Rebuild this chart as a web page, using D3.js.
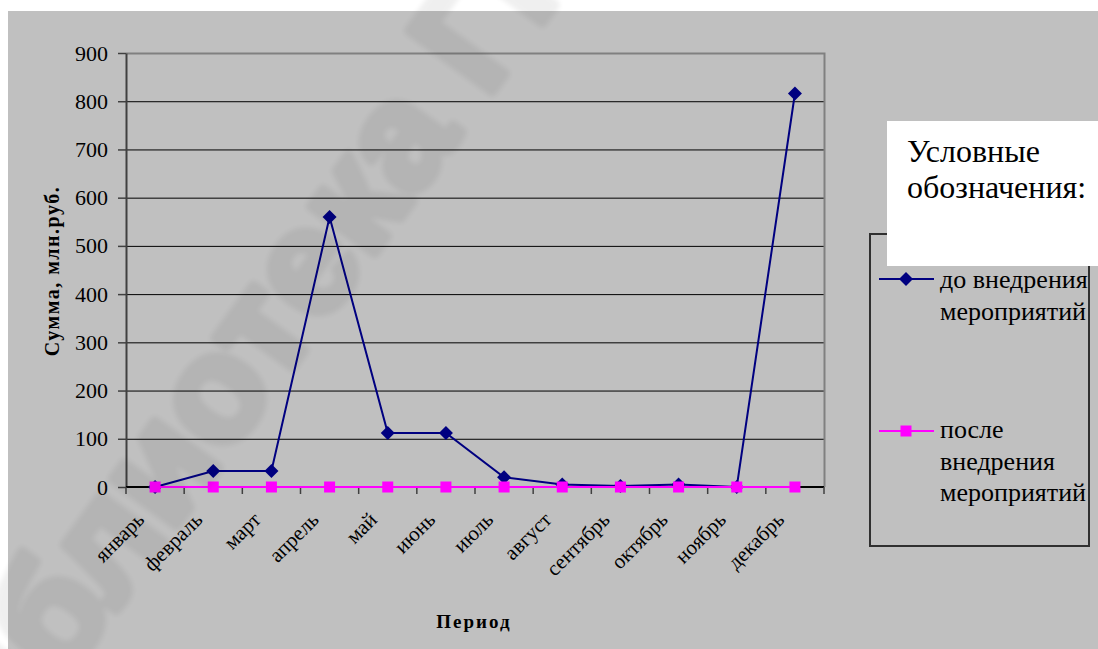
<!DOCTYPE html>
<html>
<head>
<meta charset="utf-8">
<script src="https://cdn.jsdelivr.net/npm/d3@7"></script>
<style>
  html, body { margin: 0; padding: 0; background: #ffffff; }
  svg { display: block; }
  text { font-family: "Liberation Serif", "Times New Roman", serif; fill: #000; }
</style>
</head>
<body>
<svg id="chart" width="1098" height="649"></svg>
<script>
// Monthly amounts, mln rub.
const categories = ["январь", "февраль", "март", "апрель", "май", "июнь",
                    "июль", "август", "сентябрь", "октябрь", "ноябрь", "декабрь"];
const beforeValues = [0, 33, 33, 560, 112, 112, 20, 5, 2, 5, 0, 816];
const afterValues  = [0, 0, 0, 0, 0, 0, 0, 0, 0, 0, 0, 0];
const yTicks = [0, 100, 200, 300, 400, 500, 600, 700, 800, 900];
const seriesNames = [["до внедрения", "мероприятий"], ["после", "внедрения", "мероприятий"]];

const W = 1098, H = 649;
const plot = { left: 126, right: 824, top: 53, bottom: 487 };
const serif = "'Liberation Serif', 'Times New Roman', serif";

const svg = d3.select("#chart");

// chart background
svg.append("rect").attr("x", 8).attr("y", 11).attr("width", W - 8).attr("height", H - 11)
  .attr("fill", "#c0c0c0");

const x = d3.scaleBand().domain(categories).range([plot.left, plot.right]);
const y = d3.scaleLinear().domain([0, 900]).range([plot.bottom, plot.top]);

// horizontal gridlines
svg.append("g")
  .attr("transform", `translate(${plot.left},0)`)
  .call(d3.axisRight(y).tickValues(yTicks.filter(v => v > 0 && v < 900))
        .tickSize(plot.right - plot.left).tickFormat(""))
  .call(g => g.select(".domain").remove())
  .call(g => g.selectAll("line").attr("stroke", "#000").attr("stroke-width", 1));

// plot frame (top and right)
svg.append("path")
  .attr("d", `M${plot.left},${plot.top + 0.5}H${plot.right + 0.5}V${plot.bottom}`)
  .attr("fill", "none").attr("stroke", "#808080").attr("stroke-width", 2);

// y axis
svg.append("g")
  .attr("transform", `translate(${plot.left},0)`)
  .call(d3.axisLeft(y).tickValues(yTicks).tickSize(8).tickPadding(10).tickSizeOuter(0))
  .call(g => g.select(".domain").attr("stroke", "#404040").attr("stroke-width", 2))
  .call(g => g.selectAll("line").attr("stroke", "#404040").attr("stroke-width", 1.5))
  .call(g => g.selectAll("text")
        .style("font-family", serif)
        .style("font-size", "22px").attr("fill", "#000"));

// x axis line and tick marks at category boundaries
const bounds = categories.map(c => x(c)).concat([plot.right]);
const xg = svg.append("g");
xg.append("line").attr("x1", plot.left).attr("x2", plot.right)
  .attr("y1", plot.bottom).attr("y2", plot.bottom)
  .attr("stroke", "#000").attr("stroke-width", 2);
xg.selectAll("line.tick").data(bounds).join("line")
  .attr("class", "tick")
  .attr("x1", d => d).attr("x2", d => d)
  .attr("y1", plot.bottom).attr("y2", plot.bottom + 7)
  .attr("stroke", "#404040").attr("stroke-width", 1.5);

// category labels, rotated
svg.append("g")
  .attr("transform", `translate(0,${plot.bottom})`)
  .call(d3.axisBottom(x).tickSize(0).tickPadding(0))
  .call(g => g.select(".domain").remove())
  .call(g => g.selectAll("text")
        .style("font-family", serif)
        .style("font-size", "21px").attr("fill", "#000")
        .attr("text-anchor", "end")
        .attr("y", 0).attr("dy", "0")
        .attr("transform", "translate(-9.5,34) rotate(-45)"));

// axis titles
svg.append("text")
  .attr("transform", "translate(59,271) rotate(-90)")
  .attr("text-anchor", "middle")
  .style("font-family", serif)
  .style("font-size", "20px").style("font-weight", "bold").style("letter-spacing", "1.5px")
  .text("Сумма, млн.руб.");
svg.append("text")
  .attr("x", 474).attr("y", 628)
  .attr("text-anchor", "middle")
  .style("font-family", serif)
  .style("font-size", "19px").style("font-weight", "bold").style("letter-spacing", "2px")
  .text("Период");

// series
const cx = c => x(c) + x.bandwidth() / 2;
const line = d3.line().x(d => cx(d.c)).y(d => y(d.v));
const beforeData = categories.map((c, i) => ({ c, v: beforeValues[i] }));
const afterData = categories.map((c, i) => ({ c, v: afterValues[i] }));

svg.append("path").datum(beforeData).attr("d", line)
  .attr("fill", "none").attr("stroke", "#000080").attr("stroke-width", 2);
svg.append("g").selectAll("path").data(beforeData).join("path")
  .attr("transform", d => `translate(${cx(d.c)},${y(d.v)})`)
  .attr("d", "M0,-7L7,0L0,7L-7,0Z").attr("fill", "#000080");

svg.append("path").datum(afterData).attr("d", line)
  .attr("fill", "none").attr("stroke", "#ff00ff").attr("stroke-width", 2);
svg.append("g").selectAll("rect").data(afterData).join("rect")
  .attr("x", d => cx(d.c) - 5.5).attr("y", d => y(d.v) - 5.5)
  .attr("width", 11).attr("height", 11).attr("fill", "#ff00ff");

// legend
const lg = svg.append("g");
lg.append("rect").attr("x", 870).attr("y", 234).attr("width", 219).attr("height", 312)
  .attr("fill", "none").attr("stroke", "#303030").attr("stroke-width", 2);

const legendItems = [
  { color: "#000080", shape: "diamond", y: 279, textY: 288, lines: seriesNames[0] },
  { color: "#ff00ff", shape: "square", y: 431, textY: 438, lines: seriesNames[1] }
];
legendItems.forEach(it => {
  lg.append("line").attr("x1", 879).attr("x2", 934).attr("y1", it.y).attr("y2", it.y)
    .attr("stroke", it.color).attr("stroke-width", 2);
  if (it.shape === "diamond") {
    lg.append("path").attr("transform", `translate(906,${it.y})`)
      .attr("d", "M0,-7L7,0L0,7L-7,0Z").attr("fill", it.color);
  } else {
    lg.append("rect").attr("x", 900.5).attr("y", it.y - 5.5).attr("width", 11).attr("height", 11)
      .attr("fill", it.color);
  }
  lg.append("text").attr("x", 940).attr("y", it.textY)
    .style("font-family", serif)
    .style("font-size", "26px")
    .selectAll("tspan").data(it.lines).join("tspan")
    .attr("x", 940).attr("dy", (d, i) => i === 0 ? 0 : 31.5).text(d => d);
});

// legend heading box
svg.append("rect").attr("x", 887).attr("y", 121).attr("width", W - 887).attr("height", 145)
  .attr("fill", "#ffffff");
svg.append("text").attr("x", 907).attr("y", 162)
  .style("font-family", serif)
  .style("font-size", "32px")
  .selectAll("tspan").data(["Условные", "обозначения:"]).join("tspan")
  .attr("x", 907).attr("dy", (d, i) => i === 0 ? 0 : 36).text(d => d);

// library watermark
const defs = svg.append("defs");
defs.append("filter").attr("id", "soft").attr("x", "-10%").attr("y", "-10%")
  .attr("width", "120%").attr("height", "120%")
  .append("feGaussianBlur").attr("stdDeviation", 2.5);
svg.append("g")
  .attr("opacity", 0.06)
  .attr("filter", "url(#soft)")
  .style("pointer-events", "none")
  .append("text")
  .attr("transform", "translate(278,298) rotate(-54)")
  .attr("text-anchor", "middle").attr("dominant-baseline", "central")
  .style("font-family", "'Liberation Sans', Arial, sans-serif")
  .style("font-size", "150px").style("font-weight", "bold")
  .attr("fill", "#000").attr("stroke", "#000").attr("stroke-width", 10)
  .attr("stroke-linejoin", "round")
  .text("Библиотека ГГТУ");
</script>
</body>
</html>
